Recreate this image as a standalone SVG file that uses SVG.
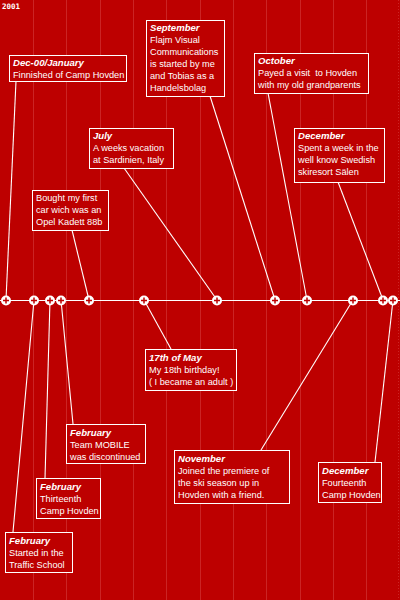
<svg xmlns="http://www.w3.org/2000/svg" width="400" height="600" viewBox="0 0 400 600">
<style>
.bg{fill:#BD0000}
.grid line{stroke:#CB2424;stroke-width:1}
.box rect{fill:#BD0000;stroke:#fff;stroke-width:1}
.box text{fill:#fff;font-family:"Liberation Sans",Arial,sans-serif;font-size:9.2px}
.box .t{font-weight:bold;font-style:italic;font-size:9.6px}
.conn line{stroke:#fff;stroke-width:1.1;fill:none}
</style>
<defs>
<g id="pt"><circle r="5" fill="#fff"/><path d="M-3 0H3M0 -3V3" stroke="#BD0000" stroke-width="1.5"/></g>
</defs>
<rect class="bg" width="400" height="600"/>
<g class="grid">
<line x1="33.5" y1="0" x2="33.5" y2="600"/>
<line x1="66.5" y1="0" x2="66.5" y2="600"/>
<line x1="100.5" y1="0" x2="100.5" y2="600"/>
<line x1="133.5" y1="0" x2="133.5" y2="600"/>
<line x1="166.5" y1="0" x2="166.5" y2="600"/>
<line x1="200.5" y1="0" x2="200.5" y2="600"/>
<line x1="233.5" y1="0" x2="233.5" y2="600"/>
<line x1="266.5" y1="0" x2="266.5" y2="600"/>
<line x1="300.5" y1="0" x2="300.5" y2="600"/>
<line x1="333.5" y1="0" x2="333.5" y2="600"/>
<line x1="366.5" y1="0" x2="366.5" y2="600"/>
<line x1="398.5" y1="0" x2="398.5" y2="600" stroke-dasharray="1 2"/>
</g>
<text x="2" y="9" fill="#fff" font-family="DejaVu Sans Mono,monospace" font-size="7.5" font-weight="bold">2001</text>
<g class="conn">
<line x1="0" y1="300.5" x2="400" y2="300.5"/>
<line x1="16" y1="81" x2="6" y2="300"/>
<line x1="210" y1="96" x2="275" y2="300"/>
<line x1="268" y1="93" x2="307" y2="300"/>
<line x1="124" y1="168" x2="217" y2="300"/>
<line x1="72" y1="230" x2="89" y2="300"/>
<line x1="338" y1="182" x2="383" y2="300"/>
<line x1="144" y1="300" x2="171" y2="349"/>
<line x1="61" y1="300" x2="73" y2="424"/>
<line x1="50" y1="300" x2="45" y2="478"/>
<line x1="34" y1="300" x2="13" y2="532"/>
<line x1="353" y1="300" x2="261" y2="450"/>
<line x1="393" y1="300" x2="375" y2="462"/>
</g>
<g id="points">
<use href="#pt" x="6" y="300.5"/>
<use href="#pt" x="34" y="300.5"/>
<use href="#pt" x="50" y="300.5"/>
<use href="#pt" x="61" y="300.5"/>
<use href="#pt" x="89" y="300.5"/>
<use href="#pt" x="144" y="300.5"/>
<use href="#pt" x="217" y="300.5"/>
<use href="#pt" x="275" y="300.5"/>
<use href="#pt" x="307" y="300.5"/>
<use href="#pt" x="353" y="300.5"/>
<use href="#pt" x="383" y="300.5"/>
<use href="#pt" x="393" y="300.5"/>
</g>
<g id="n-dec00" class="box">
<rect x="9.5" y="55.5" width="117" height="26"/>
<text x="13" y="66" class="t">Dec-00/January</text>
<text x="13" y="78">Finnished of Camp Hovden</text>
</g>
<g id="n-sep" class="box">
<rect x="146.5" y="20.5" width="78" height="76"/>
<text x="150" y="31" class="t">September</text>
<text x="150" y="43">Flajm Visual</text>
<text x="150" y="55">Communications</text>
<text x="150" y="67">is started by me</text>
<text x="150" y="79">and Tobias as a</text>
<text x="150" y="91">Handelsbolag</text>
</g>
<g id="n-oct" class="box">
<rect x="254.5" y="53.5" width="114" height="40"/>
<text x="258" y="64" class="t">October</text>
<text x="258" y="76" xml:space="preserve">Payed a visit  to Hovden</text>
<text x="258" y="88">with my old grandparents</text>
</g>
<g id="n-jul" class="box">
<rect x="89.5" y="128.5" width="84" height="40"/>
<text x="93" y="139" class="t">July</text>
<text x="93" y="151">A weeks vacation</text>
<text x="93" y="163">at Sardinien, Italy</text>
</g>
<g id="n-car" class="box">
<rect x="32.5" y="190.5" width="76" height="40"/>
<text x="36" y="201">Bought my first</text>
<text x="36" y="213">car wich was an</text>
<text x="36" y="225">Opel Kadett 88b</text>
</g>
<g id="n-decs" class="box">
<rect x="294.5" y="128.5" width="90" height="54"/>
<text x="298" y="139" class="t">December</text>
<text x="298" y="151">Spent a week in the</text>
<text x="298" y="163">well know Swedish</text>
<text x="298" y="175">skiresort Sälen</text>
</g>
<g id="n-may" class="box">
<rect x="145.5" y="349.5" width="91" height="41"/>
<text x="149" y="361" class="t">17th of May</text>
<text x="149" y="373">My 18th birthday!</text>
<text x="149" y="385">( I became an adult )</text>
</g>
<g id="n-mob" class="box">
<rect x="66.5" y="424.5" width="79" height="39"/>
<text x="70" y="436" class="t">February</text>
<text x="70" y="448">Team MOBILE</text>
<text x="70" y="460">was discontinued</text>
</g>
<g id="n-13" class="box">
<rect x="36.5" y="478.5" width="64" height="40"/>
<text x="40" y="490" class="t">February</text>
<text x="40" y="502">Thirteenth</text>
<text x="40" y="514">Camp Hovden</text>
</g>
<g id="n-tr" class="box">
<rect x="5.5" y="532.5" width="67" height="40"/>
<text x="9" y="544" class="t">February</text>
<text x="9" y="556">Started in the</text>
<text x="9" y="568">Traffic School</text>
</g>
<g id="n-nov" class="box">
<rect x="174.5" y="450.5" width="115" height="53"/>
<text x="178" y="462" class="t">November</text>
<text x="178" y="474">Joined the premiere of</text>
<text x="178" y="486">the ski season up in</text>
<text x="178" y="498">Hovden with a friend.</text>
</g>
<g id="n-dec14" class="box">
<rect x="318.5" y="462.5" width="63" height="40"/>
<text x="322" y="474" class="t">December</text>
<text x="322" y="486">Fourteenth</text>
<text x="322" y="498">Camp Hovden</text>
</g>
</svg>
